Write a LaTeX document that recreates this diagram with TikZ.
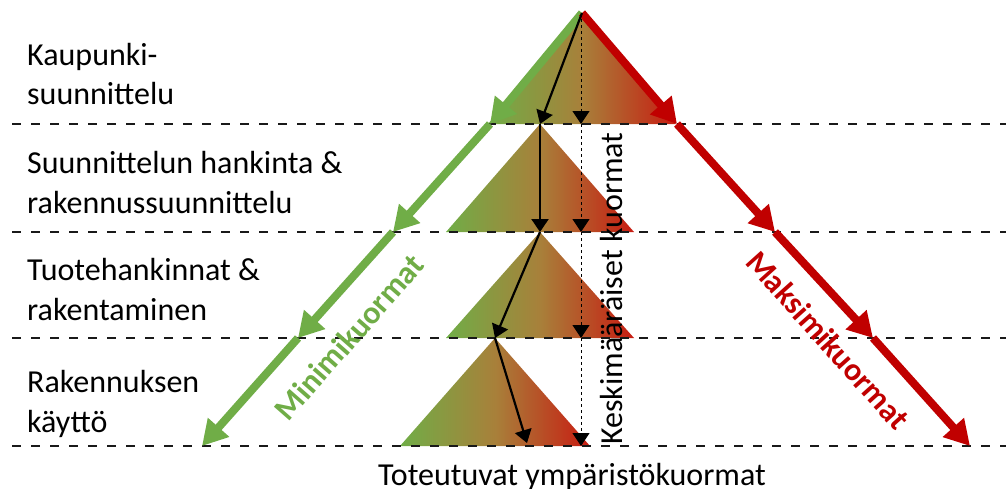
\documentclass[tikz,border=0pt]{standalone}
\usepackage{fontspec}
\setmainfont{Carlito}
\usetikzlibrary{arrows.meta}
\definecolor{mgreen}{HTML}{70AD47}
\definecolor{mred}{HTML}{C00000}
\definecolor{tgreen}{RGB}{112,173,71}
\definecolor{tmid}{RGB}{168,128,58}
\definecolor{tred}{RGB}{200,28,18}
\pgfdeclarehorizontalshading{grad}{100bp}{color(0bp)=(tgreen); color(25bp)=(tgreen); color(50bp)=(tmid); color(75bp)=(tred); color(100bp)=(tred)}
\begin{document}
\begin{tikzpicture}[x=1pt,y=-1pt,
  lbl/.style={font=\fontsize{32}{40}\selectfont, inner sep=0pt},
  lblb/.style={font=\fontsize{32}{40}\selectfont\bfseries, inner sep=0pt},
  sepline/.style={draw=black!90, line width=2.6pt, dash pattern=on 9pt off 10pt},
  tri/.style={shading=grad},
  minarr/.style={draw=mgreen, line width=8pt, -{Triangle[length=25pt,width=27pt]}},
  maxarr/.style={draw=mred, line width=8pt, -{Triangle[length=25pt,width=27pt]}},
  blk/.style={draw=black, line width=2.2pt, -{Triangle[length=13pt,width=17pt]}},
  avg/.style={draw=black, line width=1pt, dash pattern=on 3pt off 3pt, -{Triangle[length=13pt,width=17pt]}},
]
\useasboundingbox (0,0) rectangle (1006,488);
% apex / path points
\coordinate (A0) at (582,13);
\coordinate (A1) at (540,124);
\coordinate (A2) at (540,232);
\coordinate (A3) at (495,338);
\coordinate (A4) at (527,443);
\coordinate (M0) at (581,13);
\coordinate (M1) at (581,124);
\coordinate (M2) at (581,232);
\coordinate (M3) at (581,338);
\coordinate (M4) at (581,446);
\coordinate (G1) at (490,124);
\coordinate (G2) at (393,232);
\coordinate (G3) at (298,338);
\coordinate (G4) at (202,446);
\coordinate (R1) at (677,124);
\coordinate (R2) at (775,232);
\coordinate (R3) at (873,338);
\coordinate (R4) at (970,446);
% gradient triangles
\shade[tri] (A0) -- (488,124) -- (676,124) -- cycle;
\shade[tri] (A1) -- (446,232) -- (634,232) -- cycle;
\shade[tri] (A2) -- (446,338) -- (634,338) -- cycle;
\shade[tri] (A3) -- (400,446) -- (590,446) -- cycle;
% separators
\coordinate (S1a) at (12,124); \coordinate (S1b) at (1006,124);
\coordinate (S2a) at (12,232); \coordinate (S2b) at (1006,232);
\coordinate (S3a) at (12,338); \coordinate (S3b) at (1006,338);
\coordinate (S4a) at (12,446); \coordinate (S4b) at (1006,446);
\draw[sepline] (S1a) -- (S1b);
\draw[sepline] (S2a) -- (S2b);
\draw[sepline] (S3a) -- (S3b);
\draw[sepline] (S4a) -- (S4b);
% thick arrows
\draw[minarr] (A0) -- (G1);
\draw[minarr] (G1) -- (G2);
\draw[minarr] (G2) -- (G3);
\draw[minarr] (G3) -- (G4);
\draw[maxarr] (A0) -- (R1);
\draw[maxarr] (R1) -- (R2);
\draw[maxarr] (R2) -- (R3);
\draw[maxarr] (R3) -- (R4);
% black arrows
\draw[blk] (A0) -- (A1);
\draw[blk] (A1) -- (A2);
\draw[blk] (A2) -- (A3);
\draw[blk] (A3) -- (A4);
\draw[avg] (M0) -- (M1);
\draw[avg] (M1) -- (M2);
\draw[avg] (M2) -- (M3);
\draw[avg] (M3) -- (M4);
% labels
\node[lbl, anchor=base west] (l1a) at (27,65) {Kaupunki-};
\node[lbl, anchor=base west] (l1b) at (27,104) {suunnittelu};
\node[lbl, anchor=base west] (l2a) at (27,173) {Suunnittelun hankinta \&};
\node[lbl, anchor=base west] (l2b) at (27,213) {rakennussuunnittelu};
\node[lbl, anchor=base west] (l3a) at (27,280) {Tuotehankinnat \&};
\node[lbl, anchor=base west] (l3b) at (27,320) {rakentaminen};
\node[lbl, anchor=base west] (l4a) at (27,392) {Rakennuksen};
\node[lbl, anchor=base west] (l4b) at (27,432) {käyttö};
\node[lbl, anchor=base] (tot) at (572,485) {Toteutuvat ympäristökuormat};
\node[lbl, anchor=base west, rotate=90] (kes) at (622,445) {Keskimääräiset kuormat};
\node[lblb, text=mgreen, rotate=48.7] (minl) at (349,337) {Minimikuormat};
\node[lblb, text=mred, rotate=-48.1] (maxl) at (828,340) {Maksimikuormat};
\end{tikzpicture}
\end{document}
